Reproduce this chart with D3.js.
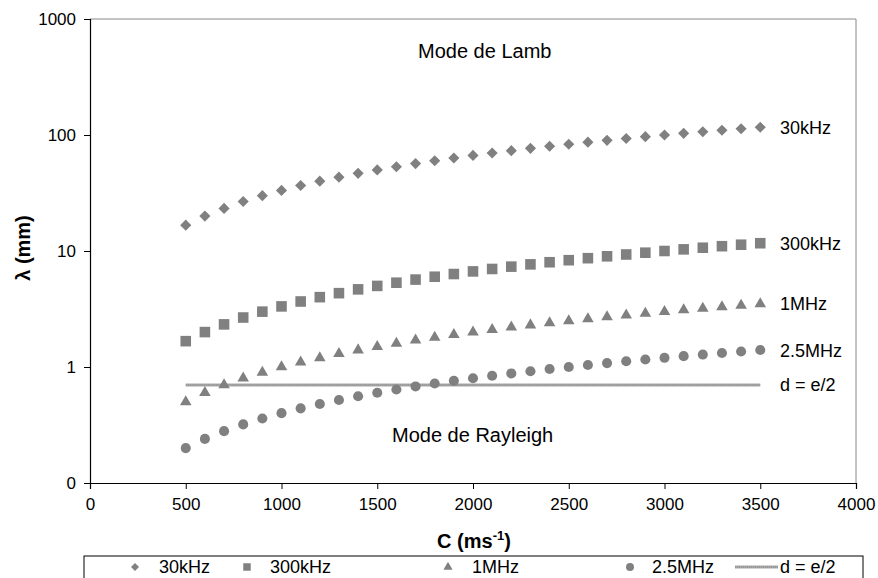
<!DOCTYPE html>
<html><head><meta charset="utf-8">
<script src="https://cdn.jsdelivr.net/npm/d3@7"></script>
<style>body{margin:0;background:#fff;} text{font-family:"Liberation Sans",Arial,sans-serif;}</style>
</head><body>
<svg id="c" width="878" height="578"></svg>
<script>
const speeds = [500,600,700,800,900,1000,1100,1200,1300,1400,1500,1600,1700,1800,1900,2000,2100,2200,2300,2400,2500,2600,2700,2800,2900,3000,3100,3200,3300,3400,3500];
const s30kHz = [16.7,20.0,23.3,26.7,30.0,33.3,36.7,40.0,43.3,46.7,50.0,53.3,56.7,60.0,63.3,66.7,70.0,73.3,76.7,80.0,83.3,86.7,90.0,93.3,96.7,100.0,103.3,106.7,110.0,113.3,116.7];
const s300kHz = [1.67,2.00,2.33,2.67,3.00,3.33,3.67,4.00,4.33,4.67,5.00,5.33,5.67,6.00,6.33,6.67,7.00,7.33,7.67,8.00,8.33,8.67,9.00,9.33,9.67,10.00,10.33,10.67,11.00,11.33,11.67];
const s1MHz = [0.5,0.6,0.7,0.8,0.9,1.0,1.1,1.2,1.3,1.4,1.5,1.6,1.7,1.8,1.9,2.0,2.1,2.2,2.3,2.4,2.5,2.6,2.7,2.8,2.9,3.0,3.1,3.2,3.3,3.4,3.5];
const s2_5MHz = [0.20,0.24,0.28,0.32,0.36,0.40,0.44,0.48,0.52,0.56,0.60,0.64,0.68,0.72,0.76,0.80,0.84,0.88,0.92,0.96,1.00,1.04,1.08,1.12,1.16,1.20,1.24,1.28,1.32,1.36,1.40];
const lineX = [500,3500];
const lineY = [0.7,0.7];
const seriesNames = ["30kHz","300kHz","1MHz","2.5MHz","d = e/2"];
const xTicks = [0,500,1000,1500,2000,2500,3000,3500,4000];
const yTicks = [0.1,1,10,100,1000];
const yTickLabels = ["0","1","10","100","1000"];

const svg = d3.select("#c");
const L=90, R=856, T=19, B=483;
const x = d3.scaleLinear().domain([0,4000]).range([L,R]);
const y = d3.scaleLog().domain([0.1,1000]).range([B,T]);
const grey = "#808080";

// frame top/right
svg.append("line").attr("x1",L).attr("x2",R).attr("y1",T).attr("y2",T).attr("stroke","#888").attr("stroke-width",1);
svg.append("line").attr("x1",R).attr("x2",R).attr("y1",T).attr("y2",B).attr("stroke","#888").attr("stroke-width",1);

// axes
const xa = svg.append("g").attr("transform",`translate(0,${B})`)
  .call(d3.axisBottom(x).tickValues(xTicks).tickFormat(d3.format("d")).tickSize(6).tickPadding(9));
const ya = svg.append("g").attr("transform",`translate(${L},0)`)
  .call(d3.axisLeft(y).tickValues(yTicks).tickFormat((d,i)=>yTickLabels[i]).tickSize(6).tickPadding(8));
[xa,ya].forEach(a=>{
  a.select(".domain").attr("stroke","#000").attr("stroke-width",1.2);
  a.selectAll(".tick line").attr("stroke","#000");
  a.selectAll(".tick text").attr("font-size",17).attr("fill","#000").attr("font-family","Liberation Sans, Arial, sans-serif");
});

// d = e/2 line
const lineData = lineX.map((v,i)=>[v,lineY[i]]);
const lg = d3.line().x(d=>x(d[0])).y(d=>y(d[1]));
svg.append("path").datum(lineData).attr("d",lg).attr("stroke","#a8a8a8").attr("stroke-width",3).attr("fill","none");
svg.append("path").datum(lineData).attr("d",lg).attr("stroke","#888").attr("stroke-width",1).attr("stroke-dasharray","1,1").attr("fill","none");

const series = [
  {vals:s30kHz, sym:d3.symbolSquare, size:62, rot:45},
  {vals:s300kHz, sym:d3.symbolSquare, size:112, rot:0},
  {vals:s1MHz, sym:d3.symbolTriangle, size:58, rot:0},
  {vals:s2_5MHz, sym:d3.symbolCircle, size:80, rot:0}
];
series.forEach(s=>{
  svg.append("g").selectAll("path").data(s.vals).join("path")
    .attr("d",d3.symbol().type(s.sym).size(s.size))
    .attr("transform",(d,i)=>`translate(${x(speeds[i])},${y(d)}) rotate(${s.rot})`)
    .attr("fill",grey);
});

// end labels
const endVals = [s30kHz[30], s300kHz[30], s1MHz[30], s2_5MHz[30], lineY[1]];
seriesNames.forEach((n,i)=>{
  svg.append("text").attr("x",780).attr("y",y(endVals[i])+6.5).attr("font-size",18).text(n);
});

svg.append("text").attr("x",418).attr("y",58).attr("font-size",20).text("Mode de Lamb");
svg.append("text").attr("x",392).attr("y",442).attr("font-size",20).text("Mode de Rayleigh");

// axis titles
const xt = svg.append("text").attr("x",474).attr("y",548).attr("text-anchor","middle").attr("font-size",20).attr("font-weight","bold");
xt.append("tspan").text("C (ms");
xt.append("tspan").attr("dy",-8).attr("font-size",13).text("-1");
xt.append("tspan").attr("dy",8).text(")");
svg.append("text").attr("transform","translate(30,248) rotate(-90)").attr("text-anchor","middle").attr("font-size",20).attr("font-weight","bold").text("λ (mm)");

// legend
svg.append("rect").attr("x",84).attr("y",556).attr("width",779).attr("height",40).attr("fill","#fff").attr("stroke","#000").attr("stroke-width",1);
const legPos = [{sx:135,tx:159},{sx:247,tx:270},{sx:448,tx:472},{sx:630,tx:652}];
const legSym = [{sym:d3.symbolSquare,size:32,rot:45},{sym:d3.symbolSquare,size:56,rot:0},{sym:d3.symbolTriangle,size:36,rot:0},{sym:d3.symbolCircle,size:50,rot:0}];
legPos.forEach((p,i)=>{
  svg.append("path").attr("d",d3.symbol().type(legSym[i].sym).size(legSym[i].size)).attr("transform",`translate(${p.sx},567) rotate(${legSym[i].rot})`).attr("fill",grey);
  svg.append("text").attr("x",p.tx).attr("y",573).attr("font-size",18).text(seriesNames[i]);
});
svg.append("line").attr("x1",735).attr("x2",778).attr("y1",567).attr("y2",567).attr("stroke","#a8a8a8").attr("stroke-width",3);
svg.append("line").attr("x1",735).attr("x2",778).attr("y1",567).attr("y2",567).attr("stroke","#888").attr("stroke-width",1).attr("stroke-dasharray","1,1");
svg.append("text").attr("x",780).attr("y",573).attr("font-size",18).text(seriesNames[4]);
</script>
</body></html>
